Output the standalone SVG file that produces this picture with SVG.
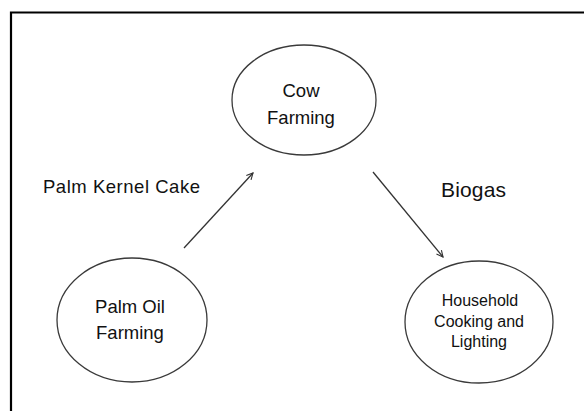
<svg xmlns="http://www.w3.org/2000/svg" width="584" height="411" viewBox="0 0 584 411">
<style>
.node ellipse{fill:#fff;stroke:#3a3a3a;stroke-width:1.3}
text{font-family:"Liberation Sans",Arial,sans-serif;fill:#111}
.n{font-size:18.5px;text-anchor:middle}
.h{font-size:16px;text-anchor:middle}
.conn line{stroke:#333;stroke-width:1.3;fill:none}
</style>
<defs>
<marker id="ah" viewBox="0 0 10 10" refX="9" refY="5" markerWidth="8" markerHeight="8" orient="auto" markerUnits="userSpaceOnUse">
<path d="M1,1 L9,5 L1,9" fill="none" stroke="#333" stroke-width="1.4"/>
</marker>
</defs>
<rect width="584" height="411" fill="#fff"/>
<path d="M11,411 V12.5 H584" fill="none" stroke="#000" stroke-width="2.2"/>
<g id="cow" class="node">
<ellipse cx="304" cy="100" rx="72" ry="55"/>
<text class="n" x="301" y="97">Cow</text>
<text class="n" x="301" y="124">Farming</text>
</g>
<g id="palmoil" class="node">
<ellipse cx="132" cy="320" rx="75" ry="62"/>
<text class="n" x="130" y="313">Palm Oil</text>
<text class="n" x="130" y="339">Farming</text>
</g>
<g id="household" class="node">
<ellipse cx="479" cy="322" rx="74" ry="61"/>
<text class="h" x="480" y="306">Household</text>
<text class="h" x="479" y="327">Cooking and</text>
<text class="h" x="479" y="347">Lighting</text>
</g>
<g id="connectors" class="conn">
<line x1="184" y1="248" x2="253" y2="173" marker-end="url(#ah)"/>
<line x1="373" y1="172" x2="443" y2="257" marker-end="url(#ah)"/>
</g>
<g id="labels">
<text x="43" y="193" font-size="18.5" textLength="157">Palm Kernel Cake</text>
<text x="441" y="197" font-size="21" textLength="65">Biogas</text>
</g>
</svg>
